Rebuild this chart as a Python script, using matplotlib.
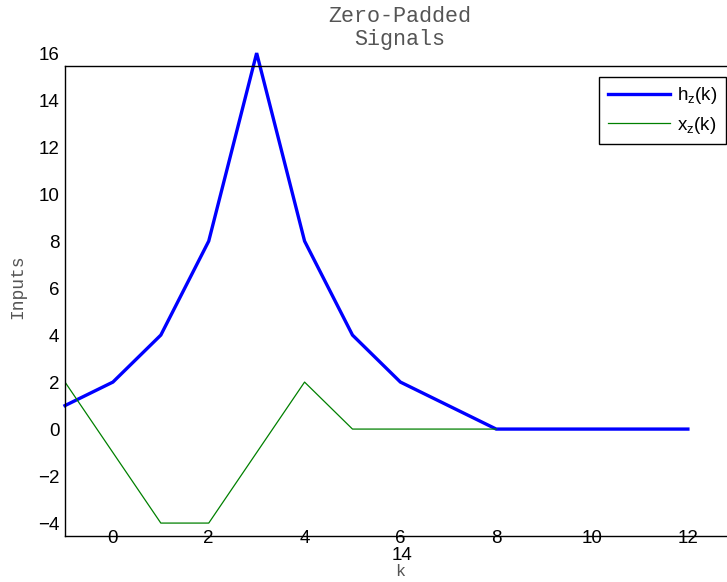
import matplotlib
matplotlib.use("Agg")
import matplotlib.pyplot as plt

plt.rcParams["mathtext.fontset"] = "custom"
plt.rcParams["mathtext.rm"] = "Liberation Sans"
plt.rcParams["mathtext.it"] = "Liberation Sans"

k = [-1, 0, 1, 2, 3, 4, 5, 6, 7, 8, 9, 10, 11, 12]
h_z = [1, 2, 4, 8, 16, 8, 4, 2, 1, 0, 0, 0, 0, 0]
k_x = [-1, 0, 1, 2, 3, 4, 5, 6, 7, 8]
x_z = [2, -1, -4, -4, -1, 2, 0, 0, 0, 0]
xticks = [0, 2, 4, 6, 8, 10, 12]
yticks = [-4, -2, 0, 2, 4, 6, 8, 10, 12, 14]

W, H = 727, 582
fig = plt.figure(figsize=(W / 100, H / 100), dpi=100)
ax = fig.add_axes([65 / W, 1 - 536 / H, (731 - 65) / W, (536 - 66) / H])

ax.plot(k, h_z, color="#0000ff", lw=2.4, label=r"h$_\mathrm{z}$(k)", clip_on=False,
        solid_joinstyle="miter")
ax.plot(k_x, x_z, color="#008000", lw=0.9, label=r"x$_\mathrm{z}$(k)")

ax.set_xlim(-1, 12.9)
ax.set_ylim(-4.55, 15.45)
ax.set_xticks(xticks)
ax.set_yticks(yticks)
ax.tick_params(length=0, labelsize=13.5, labelcolor="black")
ax.tick_params(axis="x", pad=-4)
ax.tick_params(axis="y", pad=4)
for lab in ax.get_xticklabels() + ax.get_yticklabels():
    lab.set_fontfamily("Liberation Sans")
for s in ax.spines.values():
    s.set_linewidth(1.0)
    s.set_color("black")

# extra tick labels rendered outside the axis range in the reference
ax.annotate("16", xy=(0, 16), xycoords=("axes fraction", "data"), xytext=(-4, 0),
            textcoords="offset points", ha="right", va="center_baseline", fontsize=13.5,
            family="Liberation Sans", annotation_clip=False)
fig.text(402 / W, 1 - 556 / H, "14", ha="center", va="center", fontsize=13.5,
         family="Liberation Sans")

fig.text(400 / W, 1 - 572 / H, "k", ha="center", va="center", fontsize=12,
         family="Liberation Mono", color="#555555")
fig.text(18 / W, 1 - 287 / H, "Inputs", ha="center", va="center", rotation=90,
         fontsize=13, family="Liberation Mono", color="#555555")
fig.text(400 / W, 1 - 17 / H, "Zero-Padded", ha="center", va="center",
         fontsize=15.7, family="Liberation Mono", color="#555555")
fig.text(400 / W, 1 - 40 / H, "Signals", ha="center", va="center",
         fontsize=15.7, family="Liberation Mono", color="#555555")

leg = ax.legend(loc="upper right", bbox_to_anchor=(726 / W, 1 - 77 / H),
                bbox_transform=fig.transFigure, borderaxespad=0, fancybox=False,
                edgecolor="black", framealpha=1, handlelength=3.3,
                prop={"family": "Liberation Sans", "size": 13.5},
                borderpad=0.45, labelspacing=0.45, handletextpad=0.4)
leg.get_frame().set_linewidth(1.0)

fig.savefig("out.png", dpi=100)
